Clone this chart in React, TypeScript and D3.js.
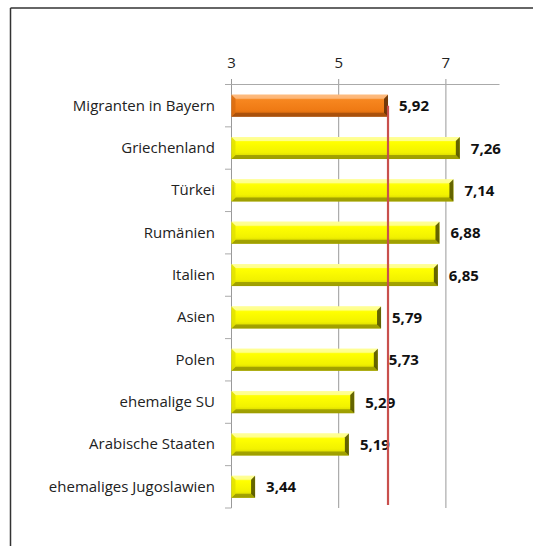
import React from 'react';
import * as d3 from 'd3';

const categories = [
  'Migranten in Bayern',
  'Griechenland',
  'Türkei',
  'Rumänien',
  'Italien',
  'Asien',
  'Polen',
  'ehemalige SU',
  'Arabische Staaten',
  'ehemaliges Jugoslawien',
];
const values = [5.92, 7.26, 7.14, 6.88, 6.85, 5.79, 5.73, 5.29, 5.19, 3.44];
const xTicks = [3, 5, 7];
const referenceValue = 5.92;

const W = 533;
const H = 546;
const FONT = '"Open Sans", Lato, sans-serif';

const App: React.FC = () => {
  const x = d3.scaleLinear().domain([3, 8]).range([231.5, 499.5]);
  const y = d3.scaleBand<string>().domain(categories).range([84.5, 508]).paddingInner(0.48).paddingOuter(0.24);
  const bh = y.bandwidth();
  const fmt = (v: number) => v.toFixed(2).replace('.', ',');
  const bev = 4;

  return (
    <svg width={W} height={H} style={{ position: 'absolute', left: 0, top: 0, background: '#fff' }}>
      <defs>
        <linearGradient id="gy" x1="0" y1="0" x2="0" y2="1">
          <stop offset="0" stopColor="#ffff70" />
          <stop offset="0.25" stopColor="#ffff00" />
          <stop offset="0.7" stopColor="#f2f200" />
          <stop offset="1" stopColor="#c8c800" />
        </linearGradient>
        <linearGradient id="go" x1="0" y1="0" x2="0" y2="1">
          <stop offset="0" stopColor="#fcae63" />
          <stop offset="0.25" stopColor="#f7861f" />
          <stop offset="0.7" stopColor="#ef7a14" />
          <stop offset="1" stopColor="#c9620e" />
        </linearGradient>
      </defs>

      {/* frame */}
      <line x1={10.5} x2={W} y1={8} y2={8} stroke="#333" strokeWidth={1.5} />
      <line x1={10.5} x2={10.5} y1={8} y2={H} stroke="#333" strokeWidth={1.5} />

      {/* grid + top axis */}
      {xTicks.map(t => (
        <g key={t}>
          <line x1={x(t)} x2={x(t)} y1={79} y2={508} stroke="#999" strokeWidth={1} />
          <text x={x(t)} y={68} textAnchor="middle" fontFamily={FONT} fontSize={15} fill="#222">{t}</text>
        </g>
      ))}
      <line x1={226} x2={x(8)} y1={84.5} y2={84.5} stroke="#aaa" strokeWidth={1} />
      <line x1={231.5} x2={231.5} y1={84.5} y2={508} stroke="#999" strokeWidth={1} />
      {d3.range(categories.length + 1).map(i => {
        const yy = 84.5 + i * (508 - 84.5) / categories.length;
        return <line key={i} x1={225} x2={231.5} y1={yy} y2={yy} stroke="#aaa" strokeWidth={1} />;
      })}

      {/* bars */}
      {categories.map((c, i) => {
        const v = values[i];
        const x0 = x(3);
        const x1 = x(v);
        const y0 = y(c)!;
        const y1 = y0 + bh;
        const orange = i === 0;
        const top = orange ? '#fdc08a' : '#ffffa8';
        const bottom = orange ? '#9b4a0b' : '#8f8f00';
        const right = orange ? '#5a2c06' : '#4a4a00';
        const left = orange ? '#d86c10' : '#e0e000';
        return (
          <g key={c}>
            <rect x={x0} y={y0} width={x1 - x0} height={bh} fill={`url(#${orange ? 'go' : 'gy'})`} />
            <polygon points={`${x0},${y0} ${x1},${y0} ${x1 - bev},${y0 + bev} ${x0 + bev},${y0 + bev}`} fill={top} opacity={0.75} />
            <polygon points={`${x0},${y1} ${x1},${y1} ${x1 - bev},${y1 - bev} ${x0 + bev},${y1 - bev}`} fill={bottom} opacity={0.75} />
            <polygon points={`${x0},${y0} ${x0 + bev},${y0 + bev} ${x0 + bev},${y1 - bev} ${x0},${y1}`} fill={left} opacity={0.8} />
            <polygon points={`${x1},${y0} ${x1 - bev},${y0 + bev} ${x1 - bev},${y1 - bev} ${x1},${y1}`} fill={right} opacity={0.85} />
            <text x={x1 + 11} y={y0 + bh / 2 + 5.5} fontFamily={FONT} fontWeight="bold" fontSize={15} fill="#111">{fmt(v)}</text>
            <text x={215} y={y0 + bh / 2 + 5} textAnchor="end" fontFamily={FONT} fontSize={15} fill="#222">{c}</text>
          </g>
        );
      })}

      {/* reference line */}
      <line x1={x(referenceValue)} x2={x(referenceValue)} y1={y(categories[0])! + bh / 2} y2={505} stroke="#c9504d" strokeWidth={2.2} />
    </svg>
  );
};

export default App;
